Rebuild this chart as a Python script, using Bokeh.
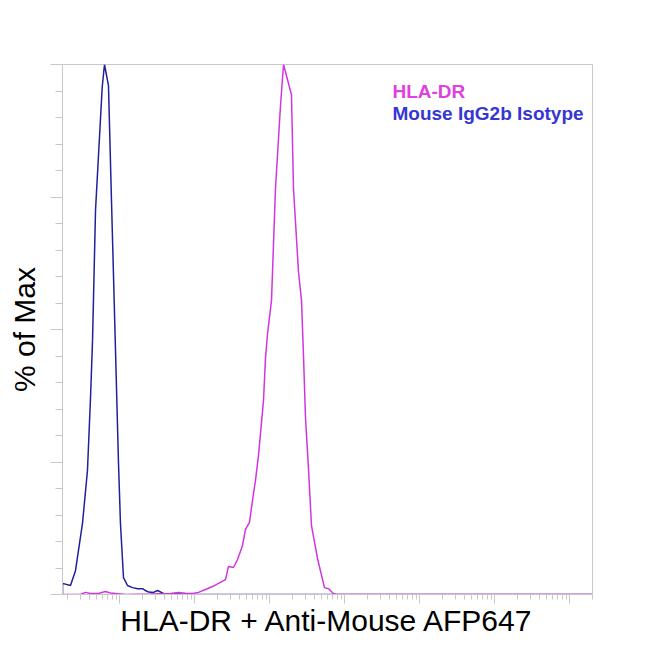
from bokeh.plotting import figure
from bokeh.models import FixedTicker, Label, Range1d
from bokeh.embed import file_html
from bokeh.resources import INLINE

# Mouse IgG2b isotype (blue) : intensity and % of max
iso_x = [17.4, 17.4, 22.2, 25.9, 32.1, 37.4, 41.1, 43.7, 47.9, 58.8,
         63.1, 71.3, 78.2, 88.5, 97.0, 103, 113, 128, 149, 174,
         203, 222, 244, 284, 321, 386, 479, 612, 782, 2.0e8]
iso_y = [0, 2.1, 1.7, 4.5, 13.4, 23.4, 37.2, 47.9, 72.5, 95.7,
         100, 96.0, 74.3, 46.0, 24.7, 13.4, 3.2, 1.7, 1.3, 1.1,
         1.1, 0.75, 0.45, 0.4, 0.75, 0.2, 0.15, 0.1, 0, 0]

# HLA-DR (magenta)
hla_x = [17.4, 30.2, 35.2, 41.1, 52.5, 65.0, 75.9, 88.5, 120, 259,
         479, 612, 759, 940, 1130, 1400, 1738, 2089, 2590, 2840,
         3311, 3743, 4365, 4786, 5410, 5930, 6500, 7130, 7590, 8320,
         8850, 9400, 10640, 12020, 14030, 15380, 19640, 20890, 24380, 26720,
         28380, 30200, 33110, 36300, 43650, 54100, 61200, 71300, 78200, 2.0e8]
hla_y = [0, 0, 0.4, 0.2, 0.2, 0.55, 0.3, 0.2, 0, 0.1,
         0.2, 0.4, 0.25, 0.2, 0.4, 0.95, 1.5, 2.1, 2.8, 5.3,
         5.1, 6.6, 9.2, 12.3, 13.6, 17.7, 21.5, 26.2, 30.4, 36.6,
         44.7, 49.1, 55.5, 76.6, 92.3, 100, 94.3, 76.6, 60.8, 55.5,
         45.3, 33.4, 23.8, 13.0, 6.8, 1.3, 1.1, 0.2, 0, 0]

decades = [2, 3, 4, 5, 6, 7, 8]
y_major = [0, 25, 50, 75, 100]
y_minor = list(range(0, 101, 5))
legend_names = ["HLA-DR", "Mouse IgG2b Isotype"]

FONT = "Liberation Sans"
AX = "#c8c8c8"

p = figure(width=608, height=648, output_backend="svg", toolbar_location=None,
           x_axis_type="log",
           x_range=Range1d(10 ** 1.24, 10 ** 8.307), y_range=Range1d(0, 100),
           min_border_left=62, min_border_right=16, min_border_top=64, min_border_bottom=54)
p.background_fill_color = "white"
p.border_fill_color = "white"
p.outline_line_color = AX
p.grid.visible = False

p.line(iso_x, iso_y, line_color="#20209a", line_width=1.5)
p.line(hla_x, hla_y, line_color="#d235e0", line_width=1.5)

xt = [10 ** d for d in decades]
xminor = [m * 10 ** d for d in [1] + decades for m in range(2, 10)]
p.xaxis.ticker = FixedTicker(ticks=xt, minor_ticks=xminor)
p.yaxis.ticker = FixedTicker(ticks=y_major, minor_ticks=y_minor)

for ax, lab in ((p.xaxis, "HLA-DR + Anti-Mouse AFP647"), (p.yaxis, "% of Max")):
    ax.axis_label = lab
    ax.axis_label_text_font = FONT
    ax.axis_label_text_font_size = "30px"
    ax.axis_label_text_font_style = "normal"
    ax.axis_label_text_color = "black"
    ax.axis_line_color = AX
    ax.major_tick_line_color = AX
    ax.minor_tick_line_color = AX
    ax.major_tick_in = 0
    ax.minor_tick_in = 0
    ax.major_label_text_font_size = "1px"
    ax.major_label_text_color = None
    ax.major_label_standoff = 0

p.xaxis.major_tick_out = 9
p.xaxis.minor_tick_out = 5
p.xaxis.axis_label_standoff = 0
p.yaxis.major_tick_out = 12
p.yaxis.minor_tick_out = 7
p.yaxis.axis_label_standoff = 10

p.add_layout(Label(x=10 ** 5.64, y=95.0, text=legend_names[0], text_color="#e040e0",
                   text_font=FONT, text_font_size="19px", text_font_style="bold",
                   text_baseline="alphabetic"))
p.add_layout(Label(x=10 ** 5.64, y=90.7, text=legend_names[1], text_color="#3636d2",
                   text_font=FONT, text_font_size="19px", text_font_style="bold",
                   text_baseline="alphabetic"))

open("out.html", "w").write(file_html(p, INLINE))
